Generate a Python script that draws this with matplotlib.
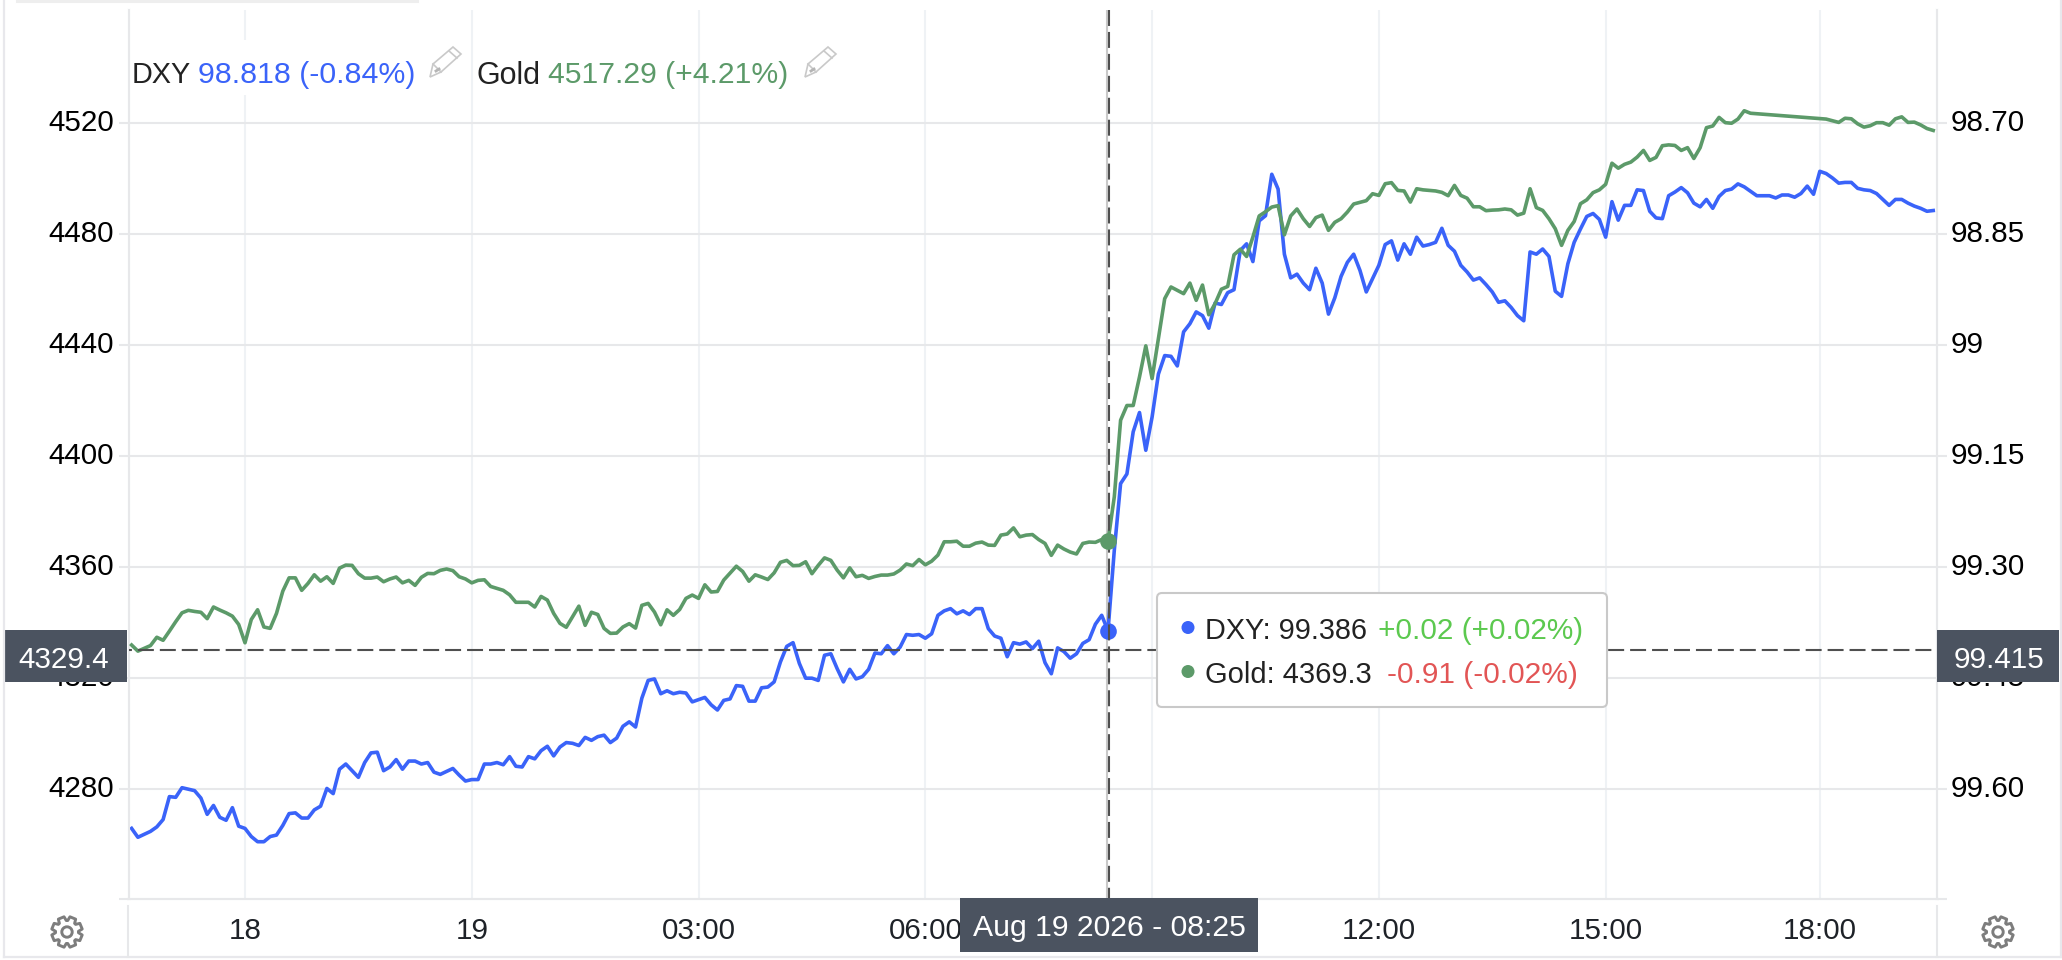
import numpy as np
import matplotlib
matplotlib.use('Agg')
import matplotlib.pyplot as plt
from matplotlib.patches import Rectangle, FancyBboxPatch, Circle, Polygon
from matplotlib.transforms import ScaledTranslation

plt.rcParams['font.family'] = ['Liberation Sans', 'DejaVu Sans']
plt.rcParams['lines.scale_dashes'] = False

# 5 minute bars, 0 is the "18" tick. Gold has no quotes for bars 240-249
dxy_bars = list(range(-18, 269))
gold_bars = list(range(-18, 240)) + list(range(250, 269))

dxy = [99.653, 99.665, 99.661, 99.657, 99.651, 99.641, 99.610, 99.611, 99.598, 99.600,
       99.602, 99.612, 99.634, 99.622, 99.638, 99.642, 99.625, 99.650,
       99.653, 99.664, 99.671, 99.671, 99.664, 99.662, 99.649, 99.633, 99.632, 99.639,
       99.639, 99.628, 99.623, 99.599, 99.606, 99.573, 99.566, 99.575, 99.584, 99.564,
       99.551, 99.550, 99.575, 99.570, 99.560, 99.573, 99.562, 99.562, 99.566, 99.564,
       99.577, 99.580, 99.576, 99.572, 99.581, 99.589, 99.587, 99.587, 99.566, 99.566,
       99.564, 99.567, 99.556, 99.569, 99.570, 99.556, 99.559, 99.548, 99.542, 99.555,
       99.543, 99.537, 99.538, 99.541, 99.530, 99.534, 99.529, 99.527, 99.537, 99.531,
       99.515, 99.509, 99.516, 99.477, 99.453, 99.451, 99.471, 99.467, 99.471, 99.469,
       99.470, 99.482, 99.479, 99.476, 99.486, 99.493, 99.480, 99.478, 99.460, 99.461,
       99.481, 99.481, 99.463, 99.462, 99.455, 99.428, 99.407, 99.402, 99.430, 99.450,
       99.450, 99.453, 99.419, 99.417, 99.437, 99.455, 99.438, 99.451, 99.448, 99.438,
       99.416, 99.417, 99.406, 99.417, 99.408, 99.391, 99.392, 99.391, 99.396, 99.390,
       99.365, 99.359, 99.356, 99.363, 99.359, 99.364, 99.356, 99.356, 99.383, 99.393,
       99.396, 99.421, 99.402, 99.404, 99.401, 99.410, 99.400, 99.429, 99.444, 99.409,
       99.414, 99.423, 99.417, 99.403, 99.398, 99.377, 99.365, 99.386,
       99.277, 99.187, 99.174, 99.117, 99.091, 99.142, 99.097, 99.039, 99.014, 99.015,
       99.028, 98.982, 98.971, 98.955, 98.960, 98.977, 98.943, 98.945, 98.929, 98.925,
       98.872, 98.863, 98.887, 98.832, 98.825, 98.769, 98.789, 98.877, 98.909, 98.904,
       98.916, 98.925, 98.896, 98.916, 98.958, 98.936, 98.907, 98.888, 98.877, 98.899,
       98.928, 98.910, 98.892, 98.864, 98.859, 98.885, 98.863, 98.877, 98.854, 98.866,
       98.864, 98.861, 98.842, 98.865, 98.873, 98.892, 98.901, 98.912, 98.909, 98.918,
       98.928, 98.942, 98.940, 98.949, 98.960, 98.967, 98.874, 98.877, 98.870,
       98.880, 98.927, 98.934, 98.890, 98.861, 98.843, 98.826, 98.822, 98.830, 98.854,
       98.806, 98.831, 98.811, 98.811, 98.790, 98.791, 98.819, 98.828, 98.829, 98.798,
       98.793, 98.787, 98.794, 98.808, 98.813, 98.803, 98.815, 98.799, 98.791, 98.789,
       98.782, 98.786, 98.792, 98.798, 98.798, 98.798, 98.801, 98.797, 98.797, 98.800,
       98.795, 98.785, 98.796, 98.765, 98.768, 98.774, 98.781, 98.780, 98.780, 98.788,
       98.790, 98.791, 98.795, 98.803, 98.811, 98.803, 98.803, 98.808, 98.812, 98.815,
       98.819, 98.818]

gold = [4331.9, 4329.7, 4330.7, 4331.7, 4334.7, 4333.6, 4336.9, 4340.3, 4343.5, 4344.4,
        4344.0, 4343.7, 4341.4, 4345.6, 4344.5, 4343.5, 4342.3, 4339.3,
        4332.7, 4341.1, 4344.6, 4338.4, 4337.9, 4343.3, 4351.3, 4356.1, 4356.1, 4351.6,
        4354.1, 4357.2, 4354.9, 4356.5, 4354.1, 4359.6, 4360.7, 4360.6, 4357.6, 4356.0,
        4356.0, 4356.4, 4354.7, 4355.7, 4356.4, 4354.3, 4355.2, 4353.4, 4356.3, 4357.7,
        4357.6, 4358.8, 4359.3, 4358.7, 4356.5, 4355.7, 4354.3, 4355.2, 4355.4, 4353.0,
        4352.3, 4351.6, 4350.0, 4347.3, 4347.3, 4347.3, 4345.6, 4349.4, 4348.1, 4343.3,
        4339.7, 4338.3, 4342.1, 4345.9, 4339.0, 4343.7, 4342.9, 4337.9, 4336.1, 4336.2,
        4338.4, 4339.6, 4338.0, 4346.2, 4346.9, 4343.8, 4339.2, 4344.6, 4342.6, 4344.7,
        4348.7, 4349.9, 4348.7, 4353.6, 4351.0, 4351.2, 4355.3, 4357.8, 4360.3, 4358.4,
        4354.9, 4357.2, 4356.4, 4355.5, 4357.9, 4361.7, 4362.4, 4360.5, 4360.6, 4361.9,
        4357.6, 4360.6, 4363.3, 4362.4, 4358.9, 4356.1, 4359.7, 4356.5, 4357.0, 4355.9,
        4356.6, 4357.1, 4357.1, 4357.5, 4358.9, 4361.1, 4360.5, 4362.7, 4360.8, 4362.1,
        4364.3, 4369.1, 4369.1, 4369.3, 4367.5, 4367.5, 4368.6, 4369.0, 4367.9, 4367.8,
        4371.5, 4371.9, 4374.1, 4370.9, 4371.5, 4371.7, 4369.9, 4368.5, 4364.2, 4367.9,
        4366.5, 4365.4, 4364.7, 4368.5, 4369.0, 4368.9, 4369.9, 4369.3,
        4385.3, 4412.9, 4418.2, 4418.2, 4428.5, 4439.7, 4427.9, 4442.3, 4456.7, 4460.9,
        4459.7, 4458.5, 4462.3, 4456.1, 4461.6, 4450.9, 4454.9, 4460.1, 4461.1, 4472.5,
        4474.5, 4471.9, 4478.9, 4486.5, 4488.0, 4489.7, 4490.2, 4479.7, 4486.5, 4489.0,
        4485.5, 4482.7, 4485.9, 4486.8, 4481.3, 4484.2, 4485.5, 4487.9, 4490.8, 4491.4,
        4492.0, 4494.5, 4493.9, 4498.1, 4498.5, 4495.7, 4495.5, 4491.5, 4496.3, 4495.9,
        4495.7, 4495.5, 4495.0, 4493.8, 4497.5, 4493.9, 4492.9, 4489.8, 4489.8, 4488.4,
        4488.6, 4488.7, 4489.0, 4488.7, 4486.8, 4487.5, 4496.3, 4489.5, 4488.5,
        4485.5, 4481.9, 4475.9, 4481.3, 4484.5, 4490.9, 4492.3, 4494.9, 4495.9, 4497.9,
        4505.5, 4503.7, 4505.1, 4505.9, 4507.7, 4510.1, 4506.5, 4507.6, 4511.8, 4512.1,
        4511.9, 4510.1, 4511.1, 4507.2, 4511.1, 4518.3, 4518.9, 4522.0, 4520.1, 4519.9,
        4521.4, 4524.4, 4523.5,
        4521.6, 4521.4, 4520.8, 4520.2, 4521.7, 4521.5, 4519.7, 4518.5, 4519.0, 4520.1,
        4520.1, 4519.2, 4521.5, 4522.2, 4520.2, 4520.3, 4519.3, 4518.0, 4517.3]

x_ticks = [0, 36, 72, 108, 144, 180, 216, 250]
x_labels = ['18', '19', '03:00', '06:00', '09:00', '12:00', '15:00', '18:00']
gold_ticks = [4280, 4320, 4360, 4400, 4440, 4480, 4520]
dxy_ticks = [99.60, 99.45, 99.30, 99.15, 99.0, 98.85, 98.70]
dxy_labels = ['99.60', '99.45', '99.30', '99.15', '99', '98.85', '98.70']

cross_bar = 137
cross_level = 4330.0
cross_gold = 4329.4
cross_dxy = 99.415
tip_gold = 4369.3
tip_dxy = 99.386

BLUE = '#3a63f9'
GREEN = '#5c9a69'
GRID = '#e7e8ea'
VGRID = '#eff2f5'
BOX = '#4b5360'
DASH = '#4f4f4f'
FS = 21.3
W, H = 2062, 960
X0, X1 = -18.35, 268.6
Y0, Y1 = 4240.5, 4560.7
D0, D1 = 99.748, 98.547


def gear(ov, cx, cy):
    # outline of a settings cog, 8 teeth
    ang = np.linspace(0, 2 * np.pi, 8, endpoint=False) + np.pi / 8
    pts = []
    for a in ang:
        for da, r in [(-0.33, 11.5), (-0.2, 15.5), (0.2, 15.5), (0.33, 11.5)]:
            pts.append((cx + r * np.cos(a + da), cy + r * np.sin(a + da)))
    ov.add_patch(Polygon(pts, closed=True, fill=False, ec='#7d7d7d', lw=2.1, joinstyle='round'))
    ov.add_patch(Circle((cx, cy), 5.2, fill=False, ec='#7d7d7d', lw=2.1))


def pencil(ov, x0, y0):
    pts = [(x0, y0 + 30), (x0 + 3, y0 + 17), (x0 + 23, y0), (x0 + 31, y0 + 7), (x0 + 11, y0 + 25)]
    ov.add_patch(Polygon(pts, closed=True, fill=False, ec='#c9c9c9', lw=1.2))
    ov.plot([x0 + 3, x0 + 11], [y0 + 17, y0 + 25], color='#c9c9c9', lw=1.2)
    ov.plot([x0 + 19, x0 + 27], [y0 + 4, y0 + 11], color='#c9c9c9', lw=1.2)
    ov.plot([x0 + 6, x0 + 9], [y0 + 24, y0 + 22], color='#b5b5b5', lw=2)


fig = plt.figure(figsize=(W / 100, H / 100), dpi=100, facecolor='white')
ax = fig.add_axes([129.4 / W, (H - 898.7) / H, (1937 - 129.4) / W, (898.7 - 10) / H])
ax.set_xlim(X0, X1)
ax.set_ylim(Y0, Y1)

ax2 = ax.twinx()
ax2.set_ylim(D0, D1)

# DXY axes holds the white background, grid and blue line, gold goes over it
ax2.set_zorder(1)
ax.set_zorder(2)
ax2.patch.set_visible(True)
ax.patch.set_visible(False)

ax2.vlines(x_ticks, D0, D1, color=VGRID, lw=1.5, zorder=1)
ax2.hlines(dxy_ticks, X0, X1, color=GRID, lw=1.5, zorder=1)

for a in (ax, ax2):
    a.spines['top'].set_visible(False)
    for s in ('left', 'right', 'bottom'):
        a.spines[s].set_color(GRID)
        a.spines[s].set_linewidth(1.5)

ax.set_xticks(x_ticks)
ax.set_xticklabels(x_labels, fontsize=FS, color='#1e2228')
ax.tick_params(axis='x', length=0, pad=13)
ax.set_yticks(gold_ticks + [Y0])
ax.set_yticklabels([str(t) for t in gold_ticks] + [''], fontsize=FS, color='black')
ax.tick_params(axis='y', length=7, width=1.5, color=GRID, pad=4)
ax2.set_yticks(dxy_ticks + [D0])
ax2.set_yticklabels(dxy_labels + [''], fontsize=FS, color='black')
ax2.tick_params(axis='y', length=7, width=1.5, color=GRID, pad=3)

# labels sit a little above their grid lines
up = ScaledTranslation(0, 3 / 100, fig.dpi_scale_trans)
for lab in ax.get_yticklabels() + ax2.get_yticklabels():
    lab.set_transform(lab.get_transform() + up)

# crosshair, a grey line next to the dashes
ax2.axvline(cross_bar - 0.16, color='#c9c9c9', lw=1.5, zorder=2)
ax2.plot(dxy_bars, dxy, color=BLUE, lw=2.6, zorder=3, solid_joinstyle='round')
ax2.plot([cross_bar], [tip_dxy], 'o', color=BLUE, ms=12, mew=0, zorder=5)
ax.plot(gold_bars, gold, color=GREEN, lw=2.6, zorder=3, solid_joinstyle='round')
ax.plot([cross_bar + 0.16, cross_bar + 0.16], [Y1, Y0], color=DASH, lw=1.5,
        ls=(0, (11.5, 4.3)), zorder=4, scalex=False, scaley=False)
ax.plot([X0, X1], [cross_level, cross_level], color=DASH, lw=1.5,
        ls=(9.4, (11.5, 4.3)), zorder=4, scalex=False, scaley=False)
ax.plot([cross_bar], [tip_gold], 'o', color=GREEN, ms=12, mew=0, zorder=5)

# everything drawn by the page around the chart, in pixels
ov = fig.add_axes([0, 0, 1, 1], zorder=10)
ov.set_xlim(0, W)
ov.set_ylim(H, 0)
ov.axis('off')

ov.plot([17, 417], [1, 1], color='#eeeeee', lw=2.2)
ov.plot([4, 4], [0, 957], color='#e8e8ec', lw=1.6)
ov.plot([4, W], [957, 957], color='#e8e8ec', lw=1.6)
ov.plot([2060.5, 2060.5], [0, 957], color='#e8e8ec', lw=1.6)
ov.plot([128, 128], [906, 957], color=GRID, lw=1.5)
ov.plot([1936.5, 1936.5], [906, 957], color=GRID, lw=1.5)

# legend on a white block
ov.add_patch(Rectangle((131, 40), 330, 55, fc='white', ec='none'))
ov.text(132, 72, 'DXY', fontsize=20.8, color='#222222', va='center_baseline')
ov.text(198, 72, '98.818 (-0.84%)', fontsize=21.8, color=BLUE, va='center_baseline')
pencil(ov, 430, 47)
ov.text(476.5, 72, 'Gold', fontsize=22, color='#222222', va='center_baseline')
ov.text(548, 72, '4517.29 (+4.21%)', fontsize=21.7, color=GREEN, va='center_baseline')
pencil(ov, 805, 47)

# value boxes on the crosshair
ov.add_patch(Rectangle((5, 630), 122, 51.7, fc=BOX, ec='none'))
ov.text(63.5, 657.5, str(cross_gold), fontsize=FS, color='white', ha='center', va='center_baseline')
ov.add_patch(Rectangle((1937, 630), 122, 51.7, fc=BOX, ec='none'))
ov.text(1999, 657.5, str(cross_dxy), fontsize=FS, color='white', ha='center', va='center_baseline')
ov.add_patch(Rectangle((960, 897.7), 298, 54.3, fc=BOX, ec='none'))
ov.text(1109, 925, 'Aug 19 2026 - 08:25', fontsize=21.7, color='white', ha='center', va='center_baseline')

# tooltip
ov.add_patch(FancyBboxPatch((1161, 597), 442, 106, boxstyle='round,pad=4,rounding_size=5',
                            fc='white', ec='#c9c9c9', lw=1.5))
ov.add_patch(Circle((1188, 627.5), 6.5, fc=BLUE, ec='none'))
ov.add_patch(Circle((1188, 671.5), 6.5, fc=GREEN, ec='none'))
ov.text(1205, 628, 'DXY: ' + str(tip_dxy), fontsize=20.8, color='#222222', va='center_baseline')
ov.text(1378, 628, '+0.02 (+0.02%)', fontsize=21.4, color='#5cc94f', va='center_baseline')
ov.text(1205, 672, 'Gold: ' + str(tip_gold), fontsize=21, color='#222222', va='center_baseline')
ov.text(1387, 672, '-0.91 (-0.02%)', fontsize=21.5, color='#e25555', va='center_baseline')

gear(ov, 67, 932)
gear(ov, 1998, 932)

fig.savefig('out.png', dpi=100)
